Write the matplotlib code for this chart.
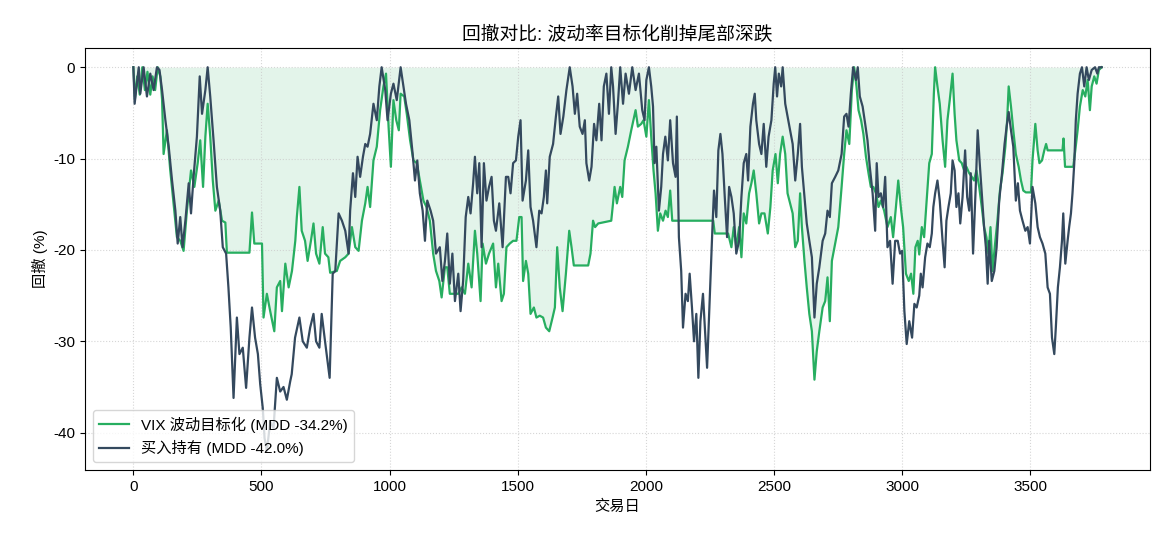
import matplotlib.pyplot as plt

plt.rcParams['font.family'] = ['Liberation Sans', 'Noto Sans CJK SC', 'DejaVu Sans']
plt.rcParams['axes.unicode_minus'] = False

# 买入持有 drawdown (%)
bh_days = [0, 5, 21, 27, 40, 53, 66, 79, 92, 102, 112, 125, 138, 151, 164, 173, 183, 192, 203, 216,
           225, 235, 248, 259, 268, 281, 290, 300, 313, 326, 339, 349, 362, 371, 380, 391, 404, 414, 427, 440,
           453, 463, 475, 486, 495, 505, 512, 521, 534, 547, 560, 573, 586, 599, 612, 618, 631, 648, 661, 677,
           690, 703, 713, 726, 735, 748, 766, 778, 788, 801, 814, 827, 840, 846, 857, 866, 875, 885, 896, 905,
           914, 924, 937, 950, 960, 969, 983, 992, 1005, 1015, 1028, 1043, 1054, 1064, 1077, 1090, 1099, 1108, 1118, 1129,
           1138, 1147, 1160, 1170, 1181, 1196, 1206, 1216, 1225, 1235, 1245, 1255, 1268, 1277, 1287, 1297, 1307, 1316, 1326, 1333,
           1342, 1350, 1359, 1368, 1378, 1388, 1398, 1407, 1415, 1428, 1441, 1454, 1463, 1472, 1482, 1493, 1502, 1511, 1519, 1532,
           1541, 1550, 1560, 1573, 1584, 1593, 1602, 1610, 1615, 1625, 1638, 1649, 1658, 1667, 1678, 1690, 1703, 1714, 1723, 1732,
           1742, 1753, 1762, 1768, 1779, 1788, 1798, 1807, 1818, 1827, 1836, 1846, 1856, 1865, 1872, 1882, 1891, 1900, 1911, 1921,
           1934, 1947, 1960, 1973, 1986, 1995, 2002, 2012, 2021, 2028, 2034, 2041, 2051, 2060, 2067, 2076, 2086, 2095, 2106, 2116,
           2121, 2129, 2138, 2145, 2155, 2164, 2171, 2180, 2188, 2197, 2205, 2213, 2223, 2231, 2239, 2247, 2253, 2260, 2266, 2275,
           2283, 2291, 2299, 2308, 2317, 2325, 2334, 2343, 2353, 2364, 2373, 2382, 2392, 2399, 2408, 2418, 2425, 2431, 2442, 2451,
           2460, 2470, 2479, 2490, 2499, 2505, 2512, 2519, 2528, 2534, 2544, 2553, 2563, 2573, 2583, 2593, 2602, 2609, 2619, 2628,
           2638, 2648, 2658, 2667, 2677, 2690, 2700, 2709, 2718, 2726, 2739, 2751, 2764, 2774, 2783, 2791, 2800, 2809, 2820, 2827,
           2835, 2846, 2856, 2865, 2874, 2885, 2895, 2901, 2908, 2917, 2926, 2934, 2943, 2953, 2963, 2973, 2983, 2992, 3000, 3009,
           3018, 3028, 3039, 3048, 3057, 3067, 3073, 3080, 3090, 3099, 3108, 3116, 3122, 3129, 3138, 3147, 3158, 3166, 3173, 3181,
           3190, 3197, 3205, 3212, 3220, 3227, 3236, 3246, 3254, 3262, 3268, 3277, 3288, 3295, 3303, 3311, 3320, 3327, 3334, 3340,
           3350, 3360, 3369, 3379, 3390, 3400, 3408, 3416, 3425, 3434, 3444, 3452, 3460, 3470, 3481, 3490, 3499, 3509, 3520, 3529,
           3538, 3548, 3559, 3568, 3577, 3585, 3594, 3600, 3608, 3616, 3624, 3629, 3637, 3646, 3652, 3659, 3665, 3672, 3678, 3685,
           3694, 3702, 3711, 3720, 3729, 3740, 3753, 3762, 3768, 3779]
bh_dd = [0, -4.0, 0, -2.9, 0, -3.2, -0.7, -2.5, 0, -0.3, -2.5, -5.8, -8.7, -12.4, -15.7, -19.3, -16.4, -19.7, -16.8, -12.7,
         -16.0, -12.0, -7.6, -1.0, -5.1, -2.5, 0, -3.2, -8.0, -13.1, -15.7, -19.7, -20.4, -24.1, -28.5, -36.2, -27.4, -31.4, -30.7, -35.1,
         -29.6, -26.3, -29.6, -31.4, -34.7, -37.3, -40.6, -42.0, -38.8, -39.5, -34.0, -35.5, -35.0, -36.4, -34.4, -33.6, -29.6, -27.4, -30.0, -30.7,
         -28.5, -27.0, -30.0, -30.7, -27.0, -30.0, -34.0, -22.6, -22.3, -16.0, -16.8, -17.9, -20.4, -15.7, -11.6, -14.2, -9.8, -12.0, -9.8, -8.4,
         -8.7, -7.3, -4.0, -5.8, -2.1, 0, -2.5, -5.8, -2.9, -1.8, -3.6, 0, -2.1, -4.0, -5.8, -9.5, -12.4, -10.2, -13.8, -15.7,
         -19.0, -14.6, -15.7, -16.8, -20.4, -19.7, -23.4, -21.2, -18.2, -23.7, -20.4, -25.6, -22.6, -26.7, -23.4, -16.4, -14.2, -16.0, -12.7, -9.8,
         -13.8, -10.5, -19.7, -10.5, -14.6, -13.1, -12.0, -16.8, -17.9, -14.9, -19.7, -12.0, -12.0, -13.8, -10.5, -10.2, -7.6, -5.8, -14.6, -12.4,
         -9.1, -15.3, -16.8, -19.7, -15.7, -16.0, -14.2, -11.3, -14.9, -9.8, -8.4, -5.4, -3.2, -7.3, -5.4, -2.5, 0, -2.1, -5.1, -2.9,
         -6.5, -7.3, -5.8, -10.5, -12.4, -10.9, -6.2, -8.0, -4.0, -8.0, -2.1, -0.7, -5.1, 0, -2.1, -7.3, -4.0, 0, -4.0, -0.7,
         -2.9, 0, -2.5, -0.7, -4.7, -5.8, -1.4, 0, -2.1, -4.3, -10.5, -8.7, -15.7, -13.1, -9.5, -7.6, -10.2, -5.8, -10.5, -12.0,
         -5.4, -18.6, -22.3, -28.5, -24.8, -25.6, -22.6, -26.3, -30.0, -27.0, -34.0, -27.8, -24.8, -28.9, -32.9, -27.0, -22.3, -17.5, -13.5, -16.4,
         -9.1, -7.3, -9.5, -14.2, -18.6, -13.1, -14.2, -16.0, -20.4, -19.0, -14.2, -10.5, -9.5, -12.4, -6.5, -4.0, -2.9, -5.8, -8.4, -9.5,
         -6.2, -10.9, -7.6, -5.8, -1.8, 0, -3.2, -0.7, -2.1, 0, -4.0, -5.4, -6.9, -8.4, -12.4, -9.5, -6.2, -10.9, -14.2, -17.1,
         -19.0, -20.8, -27.4, -23.7, -21.9, -19.0, -18.2, -15.7, -16.4, -12.7, -12.0, -11.3, -9.5, -5.4, -5.1, -6.5, -2.9, 0, -1.4, 0,
         -3.2, -4.3, -6.2, -8.0, -10.9, -13.8, -17.9, -10.5, -14.2, -13.8, -15.3, -12.0, -19.7, -19.0, -23.7, -19.0, -19.0, -20.4, -20.1, -26.7,
         -30.3, -27.8, -29.6, -25.9, -26.3, -25.0, -22.6, -24.1, -20.8, -19.3, -19.7, -18.2, -15.3, -13.8, -12.4, -14.6, -19.0, -21.9, -16.8, -15.3,
         -13.8, -10.2, -11.3, -15.3, -13.8, -17.1, -14.2, -9.1, -14.2, -15.7, -11.6, -20.4, -12.7, -6.9, -10.5, -13.8, -17.5, -19.7, -23.7, -19.0,
         -23.4, -22.3, -19.7, -14.6, -11.6, -8.4, -6.5, -4.9, -6.9, -8.7, -14.6, -12.7, -15.7, -16.8, -17.9, -17.5, -19.3, -13.1, -14.9, -17.5,
         -18.6, -19.3, -20.4, -24.1, -24.8, -29.6, -31.4, -28.5, -24.1, -21.9, -19.0, -16.0, -21.5, -19.0, -17.5, -16.0, -13.8, -10.5, -5.8, -2.9,
         -0.7, 0, -2.1, 0, -1.4, -0.3, 0, -0.7, 0, 0]

# VIX 波动目标化 drawdown (%)
vix_days = [0, 6, 15, 25, 35, 45, 55, 66, 75, 85, 95, 105, 112, 118, 131, 144, 157, 170, 183, 196,
            209, 225, 238, 251, 261, 272, 281, 290, 300, 310, 320, 333, 346, 359, 365, 453, 463, 472, 502, 508,
            521, 534, 550, 560, 573, 580, 593, 606, 619, 632, 638, 648, 657, 670, 680, 693, 703, 713, 726, 739,
            748, 761, 768, 794, 807, 827, 840, 853, 866, 879, 892, 905, 914, 924, 937, 950, 963, 976, 986, 996,
            1005, 1015, 1026, 1036, 1043, 1057, 1067, 1080, 1093, 1106, 1118, 1132, 1144, 1157, 1170, 1181, 1194, 1203, 1216, 1225,
            1235, 1268, 1281, 1294, 1307, 1320, 1333, 1342, 1355, 1363, 1376, 1388, 1404, 1415, 1424, 1437, 1446, 1456, 1469, 1482,
            1495, 1506, 1515, 1521, 1532, 1541, 1550, 1563, 1573, 1586, 1599, 1610, 1623, 1636, 1645, 1654, 1664, 1675, 1688, 1701,
            1710, 1719, 1775, 1784, 1794, 1802, 1814, 1865, 1872, 1878, 1887, 1900, 1908, 1917, 1930, 1943, 1960, 1969, 1982, 1991,
            2002, 2012, 2021, 2030, 2038, 2047, 2056, 2067, 2077, 2086, 2095, 2103, 2263, 2269, 2321, 2334, 2343, 2353, 2364, 2373,
            2382, 2392, 2403, 2412, 2421, 2431, 2442, 2451, 2463, 2476, 2486, 2495, 2506, 2515, 2524, 2534, 2544, 2553, 2563, 2573,
            2583, 2593, 2602, 2609, 2619, 2628, 2638, 2648, 2658, 2667, 2677, 2690, 2700, 2709, 2718, 2726, 2739, 2751, 2764, 2774,
            2783, 2794, 2804, 2813, 2822, 2830, 2840, 2849, 2859, 2869, 2878, 2888, 2898, 2908, 2917, 2930, 2943, 2956, 2965, 2976,
            2985, 2995, 3004, 3015, 3026, 3035, 3044, 3052, 3061, 3067, 3077, 3086, 3095, 3106, 3116, 3124, 3129, 3138, 3147, 3158,
            3168, 3177, 3186, 3197, 3205, 3212, 3223, 3233, 3242, 3251, 3262, 3272, 3281, 3290, 3301, 3311, 3320, 3329, 3337, 3345,
            3353, 3363, 3372, 3382, 3392, 3403, 3410, 3416, 3425, 3434, 3444, 3455, 3464, 3473, 3483, 3503, 3509, 3520, 3529, 3536,
            3546, 3555, 3562, 3568, 3626, 3630, 3636, 3668, 3676, 3685, 3694, 3705, 3715, 3724, 3733, 3740, 3750, 3759, 3768, 3779]
vix_dd = [0, -3.5, -1.0, -3.0, 0, -2.5, -0.5, -3.0, -1.0, -2.5, 0, -1.0, -3.5, -9.5, -6.9, -11.3, -15.0, -18.6, -19.0, -20.1,
          -15.7, -11.3, -13.1, -10.5, -8.0, -13.1, -7.6, -4.0, -7.6, -12.4, -15.7, -14.6, -16.8, -17.0, -20.3, -20.3, -15.9, -19.3, -19.3, -27.4,
          -24.8, -26.7, -28.9, -24.1, -23.4, -26.7, -21.5, -24.1, -22.3, -19.0, -16.4, -13.1, -17.9, -19.0, -21.2, -19.0, -17.1, -20.4, -21.5, -17.5,
          -20.4, -20.8, -22.5, -22.3, -21.2, -20.8, -20.4, -17.5, -19.7, -20.1, -16.8, -14.9, -13.1, -15.3, -10.2, -8.7, -4.7, -2.1, -0.7, -6.5,
          -10.9, -3.6, -5.8, -6.9, -2.9, -3.2, -5.1, -8.0, -10.2, -10.5, -12.4, -14.6, -15.3, -16.8, -20.4, -22.3, -23.4, -25.2, -21.9, -21.9,
          -24.8, -24.8, -24.1, -24.8, -21.5, -24.1, -17.9, -20.4, -25.6, -19.3, -21.5, -20.4, -19.3, -24.1, -21.5, -25.6, -24.8, -19.7, -19.3, -19.0,
          -19.0, -16.4, -16.4, -23.4, -21.2, -22.6, -27.0, -26.3, -27.4, -27.2, -27.4, -28.5, -28.9, -27.4, -26.3, -19.7, -24.1, -26.7, -22.6, -17.9,
          -19.7, -21.7, -21.7, -20.4, -16.8, -17.5, -17.1, -16.8, -14.9, -13.1, -14.9, -13.1, -14.2, -10.2, -8.7, -6.9, -4.7, -6.5, -6.2, -5.8,
          -7.6, -3.6, -7.6, -11.3, -13.8, -17.9, -16.0, -16.8, -15.7, -16.4, -13.5, -16.8, -16.8, -18.2, -18.2, -19.7, -17.5, -19.7, -17.5, -20.8,
          -16.0, -17.1, -13.8, -12.7, -11.3, -13.8, -17.1, -16.0, -16.0, -18.2, -15.3, -11.3, -9.5, -12.7, -9.5, -7.6, -9.5, -13.8, -14.9, -16.0,
          -19.7, -19.0, -13.8, -17.5, -21.2, -24.1, -27.0, -28.9, -34.2, -31.1, -28.9, -26.3, -25.6, -23.0, -27.8, -21.2, -19.3, -17.5, -13.1, -9.5,
          -6.9, -8.4, -2.5, 0, -2.1, -4.7, -5.8, -7.3, -9.8, -11.6, -13.1, -13.1, -13.8, -15.3, -14.6, -15.7, -17.5, -16.4, -18.6, -15.3,
          -12.4, -15.3, -17.5, -22.6, -23.4, -22.6, -24.8, -19.7, -19.0, -20.5, -17.5, -18.6, -14.9, -10.5, -9.5, -2.9, 0, -2.1, -4.0, -8.0,
          -10.9, -5.8, -3.6, -0.7, -5.1, -8.0, -10.2, -10.5, -11.3, -10.9, -11.6, -12.0, -12.4, -11.3, -13.1, -15.3, -17.5, -18.6, -20.4, -17.5,
          -22.3, -19.3, -16.8, -13.5, -11.6, -8.7, -5.8, -2.1, -4.3, -6.9, -9.5, -10.9, -12.4, -13.5, -13.7, -13.7, -10.2, -6.2, -9.1, -10.5,
          -10.2, -9.1, -8.4, -9.1, -9.1, -7.8, -10.9, -10.9, -9.1, -6.9, -4.3, -2.5, -3.2, -1.4, -4.7, -2.1, -1.0, -1.8, -0.3, 0]

green = '#27ae60'
navy = '#34495e'

fig, ax = plt.subplots(figsize=(11.7, 5.46), dpi=100)
fig.subplots_adjust(left=0.0726, right=0.983, top=0.912, bottom=0.139)

ax.fill_between(vix_days, vix_dd, 0, color=green, alpha=0.13, linewidth=0)
ax.plot(vix_days, vix_dd, color=green, lw=1.6, label='VIX 波动目标化 (MDD -34.2%)')
ax.plot(bh_days, bh_dd, color=navy, lw=1.6, label='买入持有 (MDD -42.0%)')

ax.set_title('回撤对比: 波动率目标化削掉尾部深跌', fontsize=13.5)
ax.set_xlabel('交易日', fontsize=11)
ax.set_ylabel('回撤 (%)', fontsize=11)
ax.tick_params(labelsize=11)
ax.grid(True, linestyle=':', color='#cccccc', alpha=0.8)
ax.legend(loc='lower left', fontsize=11, framealpha=0.8)

fig.savefig('out.png', dpi=100)
